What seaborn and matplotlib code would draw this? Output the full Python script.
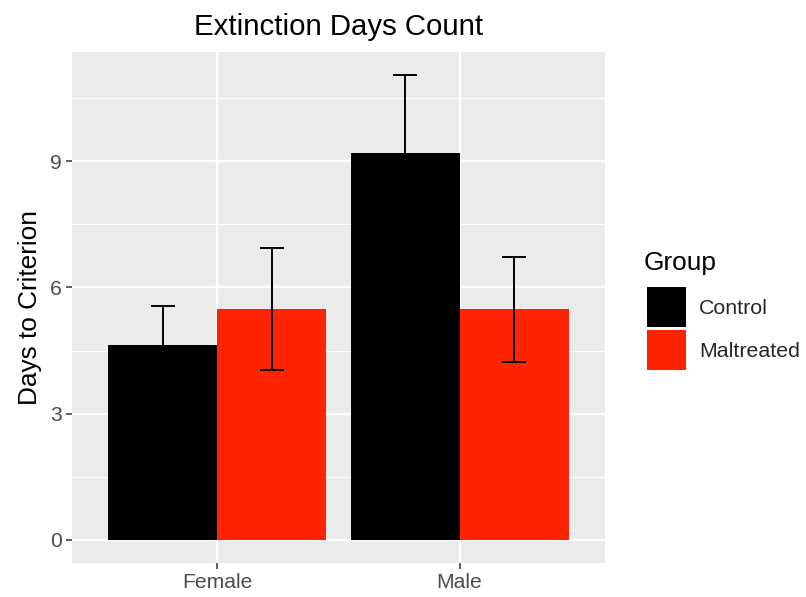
import pandas as pd
import matplotlib
matplotlib.use("Agg")
import matplotlib.pyplot as plt
from matplotlib.ticker import MultipleLocator
import seaborn as sns

# data
sexes = ["Female", "Male"]
groups = ["Control", "Maltreated"]
control_mean = [4.64, 9.20]
maltreated_mean = [5.48, 5.48]
control_err = [0.93, 1.85]
maltreated_err = [1.45, 1.25]
colours = ["#000000", "#FF2400"]

df = pd.DataFrame({
    "Sex": sexes * 2,
    "Group": [groups[0]] * 2 + [groups[1]] * 2,
    "Days": control_mean + maltreated_mean,
})
errs = [control_err, maltreated_err]

sns.set_theme(style="darkgrid", rc={"axes.facecolor": "#EBEBEB", "grid.color": "white"})
plt.rcParams['font.family'] = ['Liberation Sans', 'DejaVu Sans']

fig = plt.figure(figsize=(8.06, 5.97), dpi=100)
ax = fig.add_axes([0.0893, 0.057, 0.6613, 0.856])

sns.barplot(data=df, x="Sex", y="Days", hue="Group", order=sexes, hue_order=groups,
            palette=colours, width=0.9, gap=0, errorbar=None, saturation=1,
            linewidth=0, ax=ax)

# error bars on the bar centres
for cont, err in zip(ax.containers, errs):
    xs = [b.get_x() + b.get_width() / 2 for b in cont]
    ys = [b.get_height() for b in cont]
    ax.errorbar(xs, ys, yerr=err, fmt="none", ecolor="black", elinewidth=1.4,
                capsize=8.6, capthick=1.4, zorder=3)

ax.set_xlim(-0.6, 1.6)
ax.set_ylim(-0.55, 11.6)
ax.set_yticks([0, 3, 6, 9])
ax.yaxis.set_minor_locator(MultipleLocator(1.5))
ax.grid(which="major", color="white", linewidth=1.7)
ax.grid(which="minor", axis="y", color="white", linewidth=0.85)
ax.set_axisbelow(True)
for s in ax.spines.values():
    s.set_visible(False)
ax.tick_params(which="major", left=True, bottom=True, length=4.3, width=1.1,
               color="#333333", labelsize=15.2, labelcolor="#4D4D4D", pad=3)
ax.tick_params(which="minor", left=False, bottom=False)

ax.set_xlabel("")
ax.set_ylabel("Days to Criterion", fontsize=18.9, color="black", labelpad=6)
ax.set_title("Extinction Days Count", fontsize=21.2, color="black", pad=12)

# legend keys, with the title set separately to get the ggplot spacing
ax.legend(loc="upper left", bbox_to_anchor=(0.8027, 0.519),
          bbox_transform=fig.transFigure, frameon=False, fontsize=15.4,
          handlelength=1.82, handleheight=2.5, labelspacing=0.14,
          handletextpad=0.62, borderpad=0, borderaxespad=0)
fig.text(0.799, 0.559, "Group", fontsize=18.9, color="black", ha="left", va="center")

fig.savefig("out.png", dpi=100)
